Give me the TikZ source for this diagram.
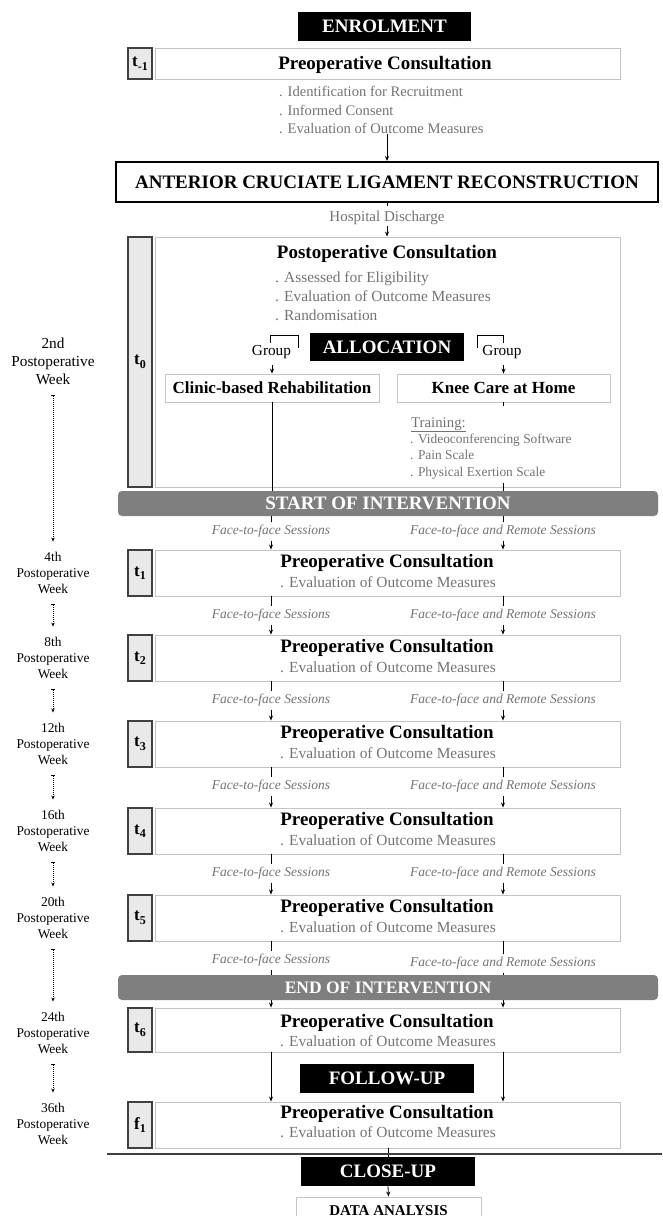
\documentclass[tikz,border=0pt]{standalone}
\usepackage{fontspec}
\setmainfont{Liberation Serif}
\usetikzlibrary{arrows.meta,calc}
\definecolor{boxgray}{HTML}{C4C4C4}
\definecolor{txtgray}{HTML}{737373}
\definecolor{tfill}{HTML}{E9E9E9}
\definecolor{tborder}{HTML}{404040}
\definecolor{barfill}{HTML}{7F7F7F}
\newcommand\fsz[1]{\fontsize{#1}{#1}\selectfont}
\newcommand\tlab[2]{\textbf{#1}\raisebox{-3.5pt}{\fsz{12}\bfseries #2}}
\begin{document}
\begin{tikzpicture}[x=1pt,y=-1pt,
  hdr/.style={fill=black,text=white,font=\bfseries\fsz{19},inner sep=0,text height=12.5pt,text depth=0pt},
  barbox/.style={fill=barfill,rounded corners=4pt,text=white,font=\bfseries\fsz{19},inner sep=0,text height=12.5pt,text depth=0pt,minimum width=540pt,minimum height=25pt},
  tbx/.style={fill=tfill,draw=tborder,line width=1.1pt,minimum width=24pt,inner sep=0,font=\bfseries\fsz{17}},
  mbx/.style={draw=boxgray,line width=0.9pt,minimum width=465pt,inner sep=0},
  grpbox/.style={draw=boxgray,line width=0.9pt,minimum height=28pt,inner sep=0,font=\bfseries\fsz{17},text height=11.5pt,text depth=0pt},
  ttl/.style={font=\bfseries\fsz{19},inner sep=0,anchor=base},
  bul/.style={font=\fsz{15.4},text=txtgray,inner sep=0,anchor=base},
  bulsm/.style={font=\fsz{14.6},text=txtgray,inner sep=0,anchor=base west},
  trn/.style={font=\fsz{13.4},text=txtgray,inner sep=0,anchor=base west},
  face/.style={font=\itshape\fsz{13.5},text=txtgray,inner sep=0,text height=9.5pt,text depth=3pt,outer ysep=3.25pt},
  wk/.style={font=\fontsize{13.4}{15.7}\selectfont,align=center,inner sep=0,outer ysep=11pt},
  conn/.style={line width=0.8pt,-{Stealth[length=5pt,width=4pt]}},
  plain/.style={line width=0.8pt},
  tline/.style={line width=0.8pt,dash pattern=on 1pt off 1pt,{Bar[width=4pt,line width=0.8pt]}-{Stealth[length=4pt,width=3.5pt]}}
  ]
\clip (0,0) rectangle (662,1216);

% ---------- enrolment ----------
\node[hdr,minimum width=173pt,minimum height=29pt] (enrol) at (384.5,26.5) {ENROLMENT};
\node[tbx,minimum height=31pt] (tm1) at (140,63.5) {\tlab{t}{-1}};
\node[mbx,minimum height=31pt] (pre0) at (387.5,63.5) {};
\node[ttl] (pre0t) at (385,69.5) {Preoperative Consultation};
\node[bulsm] (b01) at (279,96.5) {. Identification for Recruitment};
\node[bulsm] (b02) at (279,115.5) {. Informed Consent};
\node[bulsm] (b03) at (279,133.5) {. Evaluation of Outcome Measures};

% ---------- ACL ----------
\node[draw=black,line width=2pt,minimum width=542pt,minimum height=40pt,font=\bfseries\fsz{19},inner sep=0,text height=12.5pt,text depth=0pt] (acl) at (387,182) {ANTERIOR CRUCIATE LIGAMENT RECONSTRUCTION};
\draw[conn] (b03.south -| acl.north) -- (acl.north);
\node[font=\fsz{15},text=txtgray,inner sep=0,text height=10pt,text depth=0pt,outer ysep=5pt] (hosp) at (387,216) {Hospital Discharge};
\draw[plain] (acl.south) -- (hosp.north);

% ---------- t0 ----------
\node[tbx,minimum height=250pt] (t0) at (140,362) {\tlab{t}{0}};
\node[mbx,minimum height=250pt] (big) at (387.5,362) {};
\draw[conn] (hosp.south) -- (hosp.south |- big.north);
\node[ttl] (postt) at (387,258) {Postoperative Consultation};
\node[bul,anchor=base west] (b11) at (275,282) {. Assessed for Eligibility};
\node[bul,anchor=base west] (b12) at (275,301) {. Evaluation of Outcome Measures};
\node[bul,anchor=base west] (b13) at (275,320) {. Randomisation};

\node[hdr,minimum width=154pt,minimum height=28pt] (alloc) at (387,347) {ALLOCATION};
\node[font=\fsz{15.3},inner sep=0,anchor=base] (grpL) at (271.5,355) {Group};
\node[font=\fsz{15.3},inner sep=0,anchor=base] (grpR) at (502,355) {Group};
\draw[plain] (270,343) |- (298,335) -- (298,348);
\draw[plain] (477,348) |- (503,335) -- (503,343);

\node[grpbox,minimum width=214pt] (clinic) at (272,388) {Clinic-based Rehabilitation};
\node[grpbox,minimum width=213pt] (knee) at (503.5,388) {Knee Care at Home};
\draw[conn] ($(grpL.south -| clinic.north)+(0,7)$) -- (clinic.north);
\draw[conn] ($(grpR.south -| knee.north)+(0,7)$) -- (knee.north);

\node[font=\fsz{14.8},text=txtgray,inner sep=0,anchor=base west] (train) at (411,427) {\underline{Training:}};
\node[trn] (tr1) at (410,443) {. Videoconferencing Software};
\node[trn] (tr2) at (410,459) {. Pain Scale};
\node[trn] (tr3) at (410,476) {. Physical Exertion Scale};

\node[barbox] (start) at (388,503.5) {START OF INTERVENTION};
\draw[plain] (clinic.south) -- (clinic.south |- start.north);
\draw[plain] (knee.south) -- ++(0,4);
\draw[plain] ($(start.north -| knee.south)+(0,-8)$) -- (start.north -| knee.south);

% ---------- follow-up consultations ----------
\node[wk,font=\fontsize{15.3}{18}\selectfont] (w0) at (53,361) {2nd\\Postoperative\\Week};
\foreach \i/\c/\lab in {1/573/4th,2/658/8th,3/744/12th,4/831/16th,5/918/20th}{
  \node[tbx,minimum height=46pt] (t\i) at (140,\c) {\tlab{t}{\i}};
  \node[mbx,minimum height=46pt] (m\i) at (387.5,\c) {};
  \node[ttl] at (387,\c-6) {Preoperative Consultation};
  \node[bul] at (388,\c+14) {. Evaluation of Outcome Measures};
  \node[wk] (w\i) at (53,\c) {\lab\\Postoperative\\Week};
}

% labels after START
\node[face] (fL0) at (271,531) {Face-to-face Sessions};
\node[face] (fR0) at (503,531) {Face-to-face and Remote Sessions};
\draw[plain] (start.south -| fL0.north) -- (fL0.north);
\draw[plain] (start.south -| fR0.north) -- (fR0.north);
\draw[conn] (fL0.south) -- (m1.north -| fL0.south);
\draw[conn] (fR0.south) -- (m1.north -| fR0.south);

\foreach \i/\j/\y in {1/2/615,2/3/700,3/4/786,4/5/873}{
  \node[face] (fL\i) at (271,\y) {Face-to-face Sessions};
  \node[face] (fR\i) at (503,\y) {Face-to-face and Remote Sessions};
  \draw[plain] (m\i.south -| fL\i.north) -- (fL\i.north);
  \draw[plain] (m\i.south -| fR\i.north) -- (fR\i.north);
  \draw[conn] (fL\i.south) -- (m\j.north -| fL\i.south);
  \draw[conn] (fR\i.south) -- (m\j.north -| fR\i.south);
}

% ---------- end of intervention ----------
\node[barbox,font=\bfseries\fsz{17.5},text height=11.5pt] (endb) at (388,987.5) {END OF INTERVENTION};
\node[face] (fL5) at (271,960) {Face-to-face Sessions};
\node[face] (fR5) at (503,963) {Face-to-face and Remote Sessions};
\draw[plain] (m5.south -| fL5.north) -- (fL5.north);
\draw[plain] (m5.south -| fR5.north) -- (fR5.north);
\draw[plain] (fL5.south) -- (endb.north -| fL5.south);
\draw[plain] (fR5.south) -- (endb.north -| fR5.south);

\node[tbx,minimum height=44pt] (t6) at (140,1030) {\tlab{t}{6}};
\node[mbx,minimum height=44pt] (m6) at (387.5,1030) {};
\node[ttl] at (387,1027) {Preoperative Consultation};
\node[bul] at (388,1046) {. Evaluation of Outcome Measures};
\node[wk] (w6) at (53,1033) {24th\\Postoperative\\Week};
\draw[conn] (endb.south -| fL5.south) -- (m6.north -| fL5.south);
\draw[conn] (endb.south -| fR5.south) -- (m6.north -| fR5.south);

% ---------- follow-up ----------
\node[hdr,minimum width=174pt,minimum height=29pt] (follow) at (387,1078.5) {FOLLOW-UP};
\node[tbx,minimum height=46pt] (f1) at (140,1125) {\tlab{f}{1}};
\node[mbx,minimum height=46pt] (m7) at (387.5,1125) {};
\node[ttl] at (387,1118) {Preoperative Consultation};
\node[bul] at (388,1137.5) {. Evaluation of Outcome Measures};
\node[wk] (w7) at (53,1124) {36th\\Postoperative\\Week};
\draw[conn] (m6.south -| fL5.south) -- (m7.north -| fL5.south);
\draw[conn] (m6.south -| fR5.south) -- (m7.north -| fR5.south);

% ---------- timeline ----------
\draw[tline] (w0.south) -- (w1.north);
\draw[tline] (w1.south) -- (w2.north);
\draw[tline] (w2.south) -- (w3.north);
\draw[tline] (w3.south) -- (w4.north);
\draw[tline] (w4.south) -- (w5.north);
\draw[tline] (w5.south) -- (w6.north);
\draw[tline] (w6.south) -- (w7.north);

% ---------- close-up ----------
\coordinate (hlA) at (107,1154);
\coordinate (hlB) at (662,1154);
\node[hdr,minimum width=174pt,minimum height=29pt] (close) at (388,1171.5) {CLOSE-UP};
\draw[plain] (m7.south -| close.north) -- (close.north);
\draw[line width=1.6pt,tborder] (hlA) -- (hlB);
\node[draw=boxgray,line width=0.9pt,minimum width=185pt,minimum height=26pt,inner sep=0,font=\bfseries\fsz{15},text height=10pt,text depth=0pt] (data) at (388.5,1210) {DATA ANALYSIS};
\draw[conn] (close.south) -- (data.north);
\end{tikzpicture}
\end{document}
